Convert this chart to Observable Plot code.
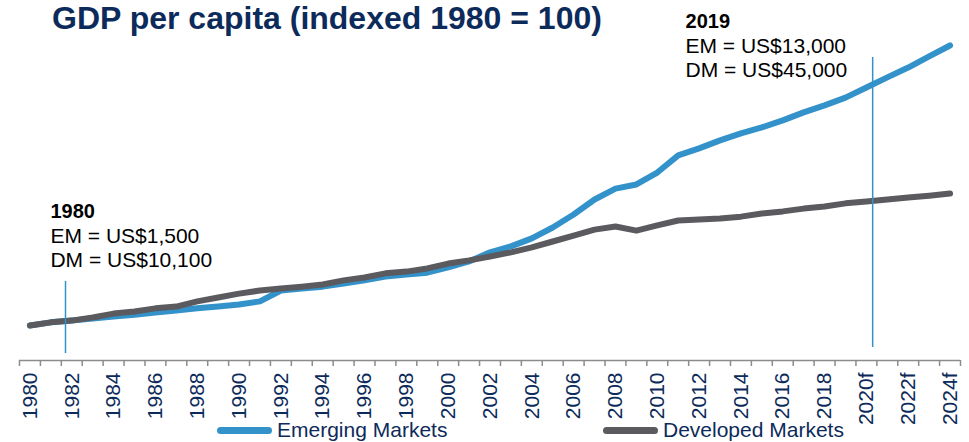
<!DOCTYPE html>
<html>
<head>
<meta charset="utf-8">
<script src="https://cdn.jsdelivr.net/npm/d3@7"></script>
<script src="https://cdn.jsdelivr.net/npm/@observablehq/plot@0.6"></script>
<style>
  body { margin: 0; background: #fff; }
  #wrap { position: relative; width: 969px; height: 442px; font-family: "Liberation Sans", Arial, sans-serif; overflow: hidden; }
  #wrap svg { position: absolute; left: 0; top: 0; }
  #title { position: absolute; left: 52px; top: 1px; font-size: 32px; font-weight: bold; color: #0d2b5a; line-height: 34px; white-space: nowrap; }
  .leg { position: absolute; top: 419px; font-size: 21px; color: #0d2b5a; line-height: 22px; display: flex; align-items: center; white-space: nowrap; }
  .sw { display: inline-block; width: 55px; height: 7px; border-radius: 4px; margin-right: 5px; }
</style>
</head>
<body>
<div id="wrap">
  <div id="title">GDP per capita (indexed 1980 = 100)</div>
</div>
<script>
// ---- data ----
const years = [1980,1981,1982,1983,1984,1985,1986,1987,1988,1989,
               1990,1991,1992,1993,1994,1995,1996,1997,1998,1999,
               2000,2001,2002,2003,2004,2005,2006,2007,2008,2009,
               2010,2011,2012,2013,2014,2015,2016,2017,2018,2019,
               2020,2021,2022,2023,2024];
const emergingMarkets = [100,109,114,120,126,131,137,143,149,154,
                         160,169,200,206,211,220,229,240,246,251,
                         266,283,309,326,349,380,417,460,491,503,
                         537,586,606,629,649,666,686,709,729,751,
                         780,809,837,869,900];
const developedMarkets = [100,109,114,123,134,140,149,154,169,180,
                          191,200,206,211,217,229,237,249,254,263,
                          277,286,297,309,323,340,357,374,383,371,
                          386,400,403,406,411,420,426,434,440,449,
                          454,460,466,471,477];
const labelYears = [1980,1982,1984,1986,1988,1990,1992,1994,1996,1998,2000,
                    2002,2004,2006,2008,2010,2012,2014,2016,2018,2020,2022,2024];
const forecastFrom = 2020;
const seriesNames = ["Emerging Markets", "Developed Markets"];

// annotations (data coordinates: year, index value)
const markerLines = [
  {year: 1981.7, from: 20, to: 226},
  {year: 2020.3, from: 37, to: 866}
];
const noteHeads = [
  {year: 1980.98, value: 406, text: "1980"},
  {year: 2011.35, value: 951, text: "2019"}
];
const noteLines = [
  {year: 1980.98, value: 337, text: "EM = US$1,500"},
  {year: 1980.98, value: 266, text: "DM = US$10,100"},
  {year: 2011.35, value: 880, text: "EM = US$13,000"},
  {year: 2011.35, value: 809, text: "DM = US$45,000"}
];

// ---- styles ----
const navy = "#0d2b5a";
const blue = "#3492ca";
const gray = "#5b5a5f";
const axisGray = "#8c8c8c";

const emRows = years.map((y, i) => ({year: y, value: emergingMarkets[i]}));
const dmRows = years.map((y, i) => ({year: y, value: developedMarkets[i]}));
const boundaries = years.map(y => y - 0.5).concat([years[years.length - 1] + 0.5]);
const fmt = y => y >= forecastFrom ? y + "f" : String(y);

const chart = Plot.plot({
  width: 969,
  height: 442,
  marginLeft: 19,
  marginRight: 9,
  marginTop: 45,
  marginBottom: 82,
  style: {fontFamily: "'Liberation Sans', Arial, sans-serif", fontSize: "21px", background: "transparent"},
  x: {domain: [years[0] - 0.5, years[years.length - 1] + 0.5], label: null},
  y: {domain: [0, 900], range: [360, 45], axis: null},
  marks: [
    Plot.ruleY([0], {stroke: axisGray, strokeWidth: 1.5}),
    Plot.axisX(boundaries, {tickSize: 6, tickFormat: () => "", stroke: axisGray, strokeWidth: 1.5, label: null}),
    Plot.axisX(labelYears, {tickSize: 0, tickPadding: 12, tickRotate: -90, tickFormat: fmt, fontSize: 21, fill: navy, label: null}),
    Plot.line(emRows, {x: "year", y: "value", stroke: blue, strokeWidth: 6, strokeLinecap: "round", strokeLinejoin: "round"}),
    Plot.line(dmRows, {x: "year", y: "value", stroke: gray, strokeWidth: 6, strokeLinecap: "round", strokeLinejoin: "round"}),
    Plot.ruleX(markerLines, {x: "year", y1: "from", y2: "to", stroke: blue, strokeWidth: 1.5}),
    Plot.text(noteHeads, {x: "year", y: "value", text: "text", textAnchor: "start", lineAnchor: "bottom", fontWeight: "bold", fontSize: 20, fill: "#000"}),
    Plot.text(noteLines, {x: "year", y: "value", text: "text", textAnchor: "start", lineAnchor: "bottom", fontSize: 21, fill: "#000"})
  ]
});

const wrap = document.getElementById("wrap");
wrap.insertBefore(chart, wrap.firstChild);

// legend
const legendItems = [
  {name: seriesNames[0], color: blue, left: 217},
  {name: seriesNames[1], color: gray, left: 603}
];
legendItems.forEach(it => {
  const d = document.createElement("div");
  d.className = "leg";
  d.style.left = it.left + "px";
  d.innerHTML = `<span class="sw" style="background:${it.color}"></span><span>${it.name}</span>`;
  wrap.appendChild(d);
});
</script>
</body>
</html>
